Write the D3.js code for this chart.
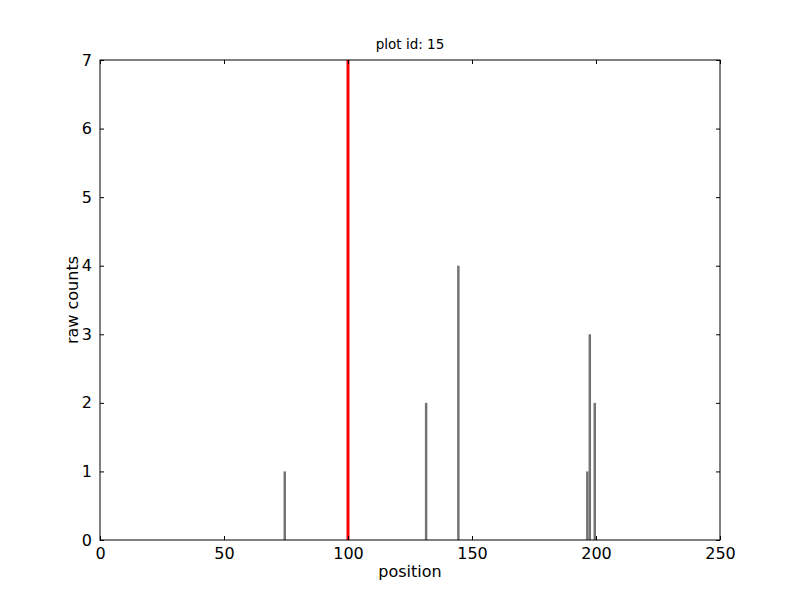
<!DOCTYPE html>
<html><head><meta charset="utf-8">
<script src="https://cdn.jsdelivr.net/npm/d3@7"></script>
<style>body{margin:0;background:#fff}svg{display:block}text{font-family:"DejaVu Sans",sans-serif}</style>
</head><body>
<script>
const positions = [74, 131, 144, 196, 197, 199];
const counts = [1, 2, 4, 1, 3, 2];
const markerPos = 100;
const xTicks = [0, 50, 100, 150, 200, 250];
const yTicks = [0, 1, 2, 3, 4, 5, 6, 7];
const title = "plot id: 15";

const W = 800, H = 600, L = 100, R = 720, T = 60, B = 540;
const svg = d3.select("body").append("svg").attr("width", W).attr("height", H);
const x = d3.scaleLinear().domain([0, 250]).range([L, R]);
const y = d3.scaleLinear().domain([0, 7]).range([B, T]);

svg.selectAll("rect.bar").data(positions).enter().append("rect")
  .attr("x", d => x(d)).attr("width", d => x(d + 1) - x(d))
  .attr("y", (d, i) => y(counts[i])).attr("height", (d, i) => y(0) - y(counts[i]))
  .attr("fill", "#737373");

svg.append("line").attr("x1", x(markerPos)).attr("x2", x(markerPos))
  .attr("y1", y(0)).attr("y2", y(7)).attr("stroke", "red").attr("stroke-width", 3);

const axB = d3.axisBottom(x).tickValues(xTicks).tickSizeInner(-4).tickSizeOuter(0).tickPadding(8).tickFormat(d3.format("d"));
const axT = d3.axisTop(x).tickValues(xTicks).tickSizeInner(-4).tickSizeOuter(0).tickFormat("");
const axL = d3.axisLeft(y).tickValues(yTicks).tickSizeInner(-4).tickSizeOuter(0).tickPadding(8).tickFormat(d3.format("d"));
const axR = d3.axisRight(y).tickValues(yTicks).tickSizeInner(-4).tickSizeOuter(0).tickFormat("");
function style(g){ g.select(".domain").remove(); g.selectAll("line").attr("stroke","#000"); g.selectAll("text").attr("font-size","16px").attr("fill","#000").style("font-family","DejaVu Sans"); }
svg.append("g").attr("transform", `translate(0,${B})`).call(axB).call(style);
svg.append("g").attr("transform", `translate(0,${T})`).call(axT).call(style);
svg.append("g").attr("transform", `translate(${L},0)`).call(axL).call(style);
svg.append("g").attr("transform", `translate(${R},0)`).call(axR).call(style);

svg.append("rect").attr("x", L).attr("y", T).attr("width", R - L).attr("height", B - T)
  .attr("fill", "none").attr("stroke", "#000").attr("stroke-width", 1);

svg.append("text").attr("x", (L + R) / 2).attr("y", 49).attr("text-anchor", "middle")
  .attr("font-size", "13.5px").text(title);
svg.append("text").attr("x", (L + R) / 2).attr("y", 577).attr("text-anchor", "middle")
  .attr("font-size", "16px").text("position");
svg.append("text").attr("transform", `translate(78,${(T + B) / 2}) rotate(-90)`).attr("text-anchor", "middle")
  .attr("font-size", "16px").text("raw counts");
</script>
</body></html>
